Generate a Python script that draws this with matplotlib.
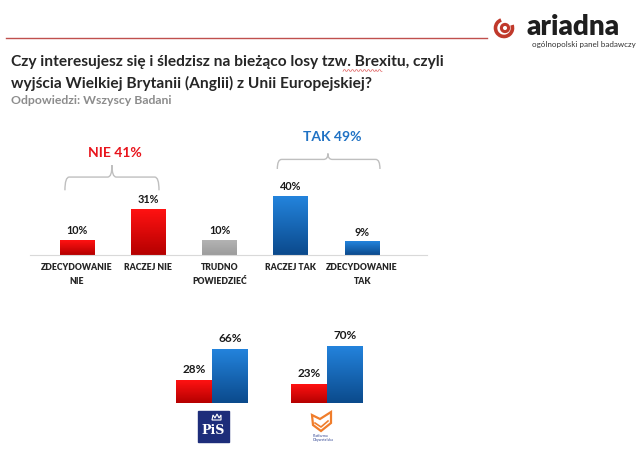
import numpy as np
import matplotlib
matplotlib.use('Agg')
import matplotlib.pyplot as plt
from matplotlib.colors import LinearSegmentedColormap
from matplotlib.patches import Rectangle, Arc, Circle, Polygon, PathPatch
from matplotlib.path import Path

plt.rcParams['font.family'] = ['Lato', 'DejaVu Sans']

# data
categories = ['ZDECYDOWANIE\nNIE', 'RACZEJ NIE', 'TRUDNO\nPOWIEDZIEĆ', 'RACZEJ TAK', 'ZDECYDOWANIE\nTAK']
values = [10, 31, 10, 40, 9]
group_labels = ['NIE 41%', 'TAK 49%']
parties = ['PiS', 'Platforma\nObywatelska']
party_nie = [28, 23]
party_tak = [66, 70]

RED = ('#ff1212', '#b50000')   # top, bottom
BLUE = ('#2383dc', '#0b4a8c')
GREY = ('#b3b3b3', '#9c9c9c')
bar_cols = [RED, RED, GREY, BLUE, BLUE]


def grad_bar(ax, x, h, w, cols):
    cmap = LinearSegmentedColormap.from_list('g', [cols[1], cols[0]])
    ax.imshow(np.linspace(0, 1, 64).reshape(-1, 1), cmap=cmap, aspect='auto',
              origin='lower', extent=[x - w / 2, x + w / 2, 0, h], zorder=2)


def brace(ax, x0, x1, xm, ylow, yh, ypeak, dx):
    verts = [(x0, ylow), (x0, yh), (x0 + dx, yh), (xm - dx, yh), (xm, yh), (xm, ypeak),
             (xm, yh), (xm + dx, yh), (x1 - dx, yh), (x1, yh), (x1, ylow)]
    codes = [Path.MOVETO, Path.CURVE3, Path.CURVE3, Path.LINETO, Path.CURVE3, Path.CURVE3,
             Path.CURVE3, Path.CURVE3, Path.LINETO, Path.CURVE3, Path.CURVE3]
    ax.add_patch(PathPatch(Path(verts, codes), fc='none', ec='#bfbfbf', lw=1.0, clip_on=False))


fig = plt.figure(figsize=(6.44, 4.51), dpi=100)

# overlay in pixel coords for header / logos
ov = fig.add_axes([0, 0, 1, 1])
ov.set_xlim(0, 644)
ov.set_ylim(451, 0)
ov.axis('off')

ov.plot([6, 487], [38, 38], color='#c0504d', lw=1.0)
ov.text(527, 27, 'ariadna', fontsize=20, fontweight='heavy', color='#1e1e1e', va='center', ha='left')
ov.text(636, 44, 'ogólnopolski panel badawczy', fontsize=5.8, color='#333333', va='center', ha='right')
ov.add_patch(Arc((504, 28), 17, 17, theta1=-20, theta2=250, color='#c0392b', lw=2.6))
ov.add_patch(Circle((505, 28), 3.6, fc='none', ec='#c0392b', lw=2.2))

ov.text(11, 62, 'Czy interesujesz się i śledzisz na bieżąco losy tzw. Brexitu, czyli',
        fontsize=11.2, fontweight='bold', color='#262626', va='center')
ov.text(11, 83, 'wyjścia Wielkiej Brytanii (Anglii) z Unii Europejskiej?',
        fontsize=11.2, fontweight='bold', color='#262626', va='center')
ov.text(11, 101, 'Odpowiedzi: Wszyscy Badani', fontsize=8.8, fontweight='bold',
        color='#8c8c8c', va='center')
# spell-check squiggle under "Brexitu"
sx = np.arange(343, 383, 1.0)
ov.plot(sx, 70.5 + 0.8 * np.sign(np.sin(sx * 1.6)), color='#e06060', lw=0.5)

# PiS logo
ov.add_patch(Rectangle((198, 411), 31, 31, color='#1d2d7a'))
ov.text(213.5, 431, 'PiS', fontsize=9, fontweight='bold', family='DejaVu Serif',
        color='white', ha='center', va='center')
ov.add_patch(Polygon([(212, 420), (213, 415), (215, 418), (217, 414), (219, 418), (221, 415), (221, 420)],
                     closed=True, fc='none', ec='white', lw=0.8))
# PO logo
ov.add_patch(Polygon([(312, 415), (320, 419), (331, 412), (331, 423), (321, 431), (313, 425)],
                     closed=True, fc='none', ec='#f07d2b', lw=1.6))
ov.plot([315, 321, 328], [423, 427, 421], color='#f07d2b', lw=1.2)
ov.text(313, 438, parties[1], fontsize=2.6, color='#2a3f8f', va='center', ha='left', linespacing=0.9)

# top chart
ax = fig.add_axes([30 / 644, 1 - 255 / 451, 397 / 644, 125 / 451])
ax.set_facecolor('none')
w = 0.49
for i, v in enumerate(values):
    grad_bar(ax, i, v, w, bar_cols[i])
    ax.annotate(f'{v}%', (i, v), xytext=(0, 3), textcoords='offset points', ha='center',
                va='bottom', fontsize=7.8, fontweight='bold', color='#1a1a1a')
ax.set_xlim(-0.66, 4.91)
ax.set_ylim(0, 85)
for s in ['top', 'right', 'left']:
    ax.spines[s].set_visible(False)
ax.spines['bottom'].set_color('#d9d9d9')
ax.set_yticks([])
ax.set_xticks(range(len(categories)))
ax.set_xticklabels(categories, fontsize=6.2, fontweight='heavy', color='#262626', linespacing=1.7)
ax.tick_params(axis='x', length=0, pad=6)

brace(ax, -0.17, 1.15, 0.49, 44, 53, 61, 0.06)
brace(ax, 2.81, 4.25, 3.52, 58.5, 65, 69, 0.06)
ax.text(0.53, 69.5, group_labels[0], fontsize=10, fontweight='bold', color='#e8141c',
        ha='center', va='center', clip_on=False)
ax.text(3.58, 80.5, group_labels[1], fontsize=10, fontweight='bold', color='#2072c4',
        ha='center', va='center', clip_on=False)

# bottom chart
ax2 = fig.add_axes([160 / 644, 1 - 403 / 451, 220 / 644, 83 / 451])
ax2.set_facecolor('none')
bw = 0.313
for i in range(len(parties)):
    grad_bar(ax2, i - bw / 2, party_nie[i], bw, RED)
    grad_bar(ax2, i + bw / 2, party_tak[i], bw, BLUE)
    ax2.annotate(f'{party_nie[i]}%', (i - bw / 2, party_nie[i]), xytext=(0, 4),
                 textcoords='offset points', ha='center', va='bottom', fontsize=8.5,
                 fontweight='bold', color='#1a1a1a')
    ax2.annotate(f'{party_tak[i]}%', (i + bw / 2, party_tak[i]), xytext=(0, 4),
                 textcoords='offset points', ha='center', va='bottom', fontsize=8.5,
                 fontweight='bold', color='#1a1a1a')
ax2.set_xlim(-0.452, 1.461)
ax2.set_ylim(0, 102.5)
ax2.axis('off')

fig.savefig('out.png', dpi=100)
